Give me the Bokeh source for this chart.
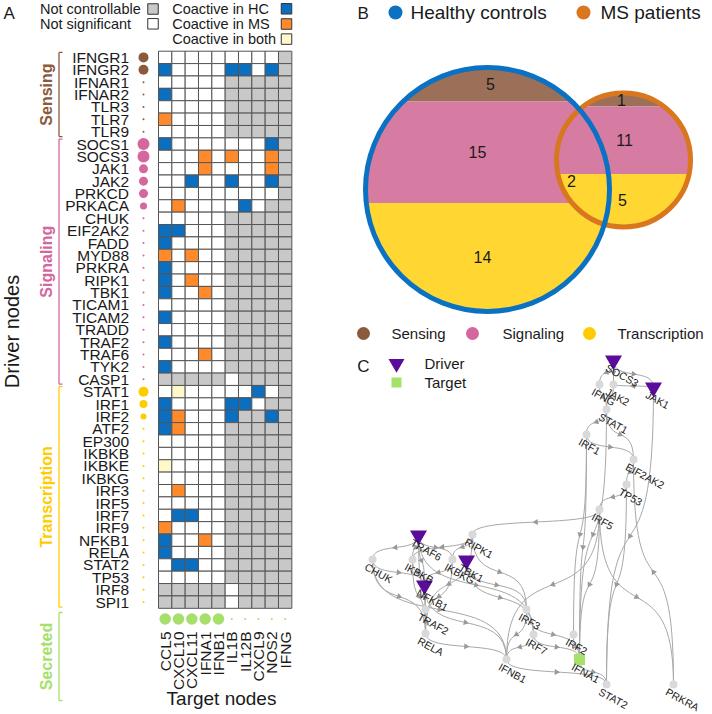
import numpy as np
from bokeh.plotting import figure
from bokeh.layouts import row, column
from bokeh.models import Range1d
from bokeh.core.properties import value
from bokeh.embed import file_html
from bokeh.resources import INLINE

FONT = value("Liberation Sans")

# ---------------- Panel A data ----------------
sensing_drivers = ["IFNGR1", "IFNGR2", "IFNAR1", "IFNAR2", "TLR3", "TLR7", "TLR9"]
signaling_drivers = ["SOCS1", "SOCS3", "JAK1", "JAK2", "PRKCD", "PRKACA", "CHUK", "EIF2AK2",
                     "FADD", "MYD88", "PRKRA", "RIPK1", "TBK1", "TICAM1", "TICAM2", "TRADD",
                     "TRAF2", "TRAF6", "TYK2", "CASP1"]
transcription_drivers = ["STAT1", "IRF1", "IRF2", "ATF2", "EP300", "IKBKB", "IKBKE", "IKBKG",
                         "IRF3", "IRF5", "IRF7", "IRF9", "NFKB1", "RELA", "STAT2", "TP53",
                         "IRF8", "SPI1"]
target_nodes = ["CCL5", "CXCL10", "CXCL11", "IFNA1", "IFNB1", "IL1B", "IL12B", "CXCL9", "NOS2", "IFNG"]

# G = not controllable, W = not significant, B = coactive in HC, O = coactive in MS, Y = both
sensing_status = [
    "WWWWWWWWWG", "BWWWWBBWBG", "WWWWWGGGGG", "BWWWWGGGGG", "WWWWWGGGGG", "OWWWWGGGGG", "WWWWWGGGGG",
]
signaling_status = [
    "BWWWWWWWBG", "WWWOWOWWOG", "WWWOWWWWOG", "WWBWWBWWBG", "WWWWWWWWWG", "WOWWWWBWGG",
    "WWWWWGGGGG", "BBWWWGGGGG", "BWWWWGGGGG", "OWOWWGGGGG", "BWWWWGGGGG", "BWOWWGGGGG",
    "BWWOWGGGGG", "WWWWWGGGGG", "BWWWWGGGGG", "WWWWWGGGGG", "BWWWWGGGGG", "WWWOWGGGGG",
    "BWWWWGGGGG", "GGGGGWGGGG",
]
transcription_status = [
    "WYWWWWWBWG", "BWWWWBBWGG", "BOWWWBGGBG", "BOWWWGGGGG", "WWWWWGGGGG", "WWWWWGGGGG",
    "YWWWWGGGGG", "WWWWWGGGGG", "WOWWWGGGGG", "WWWWWGGGGG", "WBBWWGGGGG", "OWWWWGGGGG",
    "BWWOWGGGGG", "BWWWWGGGGG", "WBBWWGGGGG", "WWWWWGGGGG", "GGGGGWGGGG", "GGGGGWGGGG",
]
# relative importance of each node (dot size)
sensing_weight = [0.8, 0.8, 0, 0, 0, 0, 0]
signaling_weight = [1.0, 1.0, 0.7, 0.7, 0.7, 0.5] + [0] * 14
transcription_weight = [0.8, 0.6, 0.4] + [0] * 15
target_weight = [0.95, 0.95, 0.95, 0.95, 0.95, 0, 0, 0, 0, 0]

# ---------------- Panel B data ----------------
venn_groups = ["Sensing", "Signaling", "Transcription"]
hc_only_counts = [5, 15, 14]
ms_only_counts = [1, 11, 5]
shared_counts = [0, 0, 2]

# ---------------- Panel C data ----------------
net_nodes = ["SOCS3", "JAK1", "IFNG", "JAK2", "STAT1", "IRF1", "EIF2AK2", "TP53", "IRF5",
             "TRAF6", "RIPK1", "CHUK", "IKBKB", "IKBKG", "TBK1", "NFKB1", "TRAF2", "IRF3",
             "RELA", "IRF7", "IRF2", "IFNB1", "IFNA1", "STAT2", "PRKRA"]
net_x = [613, 653, 599, 613, 606, 586, 633, 626, 599,
         418, 472, 372, 412, 452, 466, 424, 425, 526,
         425, 533, 573, 506, 579, 606, 673]
net_y = [360, 387, 384, 384, 409, 434, 459, 484, 509,
         535, 534, 559, 559, 559, 560, 585, 609, 609,
         633, 634, 634, 659, 659, 684, 684]
net_role = ["driver", "driver", "node", "node", "node", "node", "node", "node", "node",
            "driver", "node", "node", "node", "node", "driver", "driver", "node", "node",
            "node", "node", "node", "node", "target", "node", "node"]
net_edges = [
    ("SOCS3", "JAK1"), ("JAK1", "JAK2"), ("SOCS3", "IFNG"), ("SOCS3", "JAK2"),
    ("IFNG", "STAT1"), ("JAK2", "STAT1"), ("STAT1", "IRF1"), ("STAT1", "EIF2AK2"),
    ("IRF1", "EIF2AK2"), ("EIF2AK2", "TP53"), ("TP53", "IRF5"), ("IRF1", "IRF2"),
    ("IRF1", "IFNA1"), ("STAT1", "IFNA1"), ("IRF5", "IFNA1"), ("IRF5", "PRKRA"),
    ("IRF5", "IFNB1"), ("JAK1", "STAT2"), ("TP53", "STAT2"), ("PRKRA", "EIF2AK2"),
    ("IRF2", "IFNA1"), ("IRF3", "IFNA1"), ("IRF7", "IFNA1"), ("IRF3", "IFNB1"),
    ("IRF7", "IFNB1"), ("IFNB1", "STAT2"), ("IFNA1", "STAT2"), ("TRAF6", "IKBKB"),
    ("TRAF6", "IKBKG"), ("TRAF6", "CHUK"), ("TRAF6", "NFKB1"), ("TRAF6", "RELA"),
    ("TRAF6", "IRF7"), ("RIPK1", "IKBKB"), ("RIPK1", "IKBKG"), ("RIPK1", "RELA"),
    ("RIPK1", "IRF3"), ("TBK1", "IRF3"), ("TBK1", "IRF7"), ("CHUK", "RELA"),
    ("CHUK", "NFKB1"), ("IKBKB", "NFKB1"), ("IKBKB", "RELA"), ("IKBKG", "NFKB1"),
    ("IKBKG", "RELA"), ("NFKB1", "TRAF2"), ("TRAF2", "RELA"), ("RELA", "IFNB1"),
    ("NFKB1", "IFNB1"), ("IRF5", "RIPK1"), ("CHUK", "IFNB1"),
]

# ---------------- styles ----------------
C_SENS, C_SIG, C_TRANS, C_SEC = "#8B5A3C", "#D3679E", "#FFCC00", "#A6E06B"
CELL = {"G": "#C8C8C8", "W": "#FFFFFF", "B": "#0C6EBF", "O": "#FF8A2B", "Y": "#FFF8CB"}
TXT = "#1A1A1A"


def clean(p):
    p.grid.visible = False
    p.outline_line_color = None
    p.background_fill_color = "white"
    p.border_fill_color = "white"


def T(p, x, y, text, size, align="left", base="middle", angle=0.0, color=TXT, style="normal"):
    if not isinstance(x, (list, np.ndarray)):
        x, y, text = [x], [y], [text]
    p.text(x=x, y=y, text=text, text_font=FONT, text_font_size=size, text_align=align,
           text_baseline=base, angle=angle, text_color=color, text_font_style=style)


# ================= Panel A =================
WA, HA = 300, 712
X0P, CW = 158.0, 13.333
Y0P, RH = 50.7, 12.38


def ux(px):
    return (px - X0P) / CW


def uy(py):
    return (py - Y0P) / RH


pA = figure(width=WA, height=HA, x_range=Range1d(ux(0), ux(WA)),
            y_range=Range1d(uy(HA), uy(0)), output_backend="svg", toolbar_location=None,
            min_border=0, x_axis_location=None, y_axis_location=None)
clean(pA)

drivers = sensing_drivers + signaling_drivers + transcription_drivers
status = sensing_status + signaling_status + transcription_status
weights = sensing_weight + signaling_weight + transcription_weight
dcolors = ([C_SENS] * len(sensing_drivers) + [C_SIG] * len(signaling_drivers)
           + [C_TRANS] * len(transcription_drivers))

cx, cy, cc = [], [], []
for r, s in enumerate(status):
    for c, ch in enumerate(s):
        cx.append(c + 0.5)
        cy.append(r + 0.5)
        cc.append(CELL[ch])
pA.rect(x=cx, y=cy, width=1, height=1, fill_color=cc, line_color="#555555", line_width=1)

rows_y = [r + 0.5 for r in range(len(drivers))]
T(pA, [ux(128.5)] * len(drivers), rows_y, drivers, "15.5px", align="right")
pA.scatter(x=[ux(143)] * len(drivers), y=rows_y, size=[2 + 10 * w for w in weights],
           fill_color=dcolors, line_color=None)

cols_x = [c + 0.5 for c in range(len(target_nodes))]
pA.scatter(x=cols_x, y=[uy(618.5)] * len(target_nodes), size=[2 + 10 * w for w in target_weight],
           fill_color=C_SEC, line_color=None)
T(pA, cols_x, [uy(631)] * len(target_nodes), target_nodes, "15.5px", align="right",
  angle=np.pi / 2)

# group brackets
n1 = len(sensing_drivers)
n2 = n1 + len(signaling_drivers)
n3 = n2 + len(transcription_drivers)
groups = [("Sensing", C_SENS, 0.1, n1 - 0.1), ("Signaling", C_SIG, n1 + 0.1, n2 - 0.1),
          ("Transcription", C_TRANS, n2 + 0.1, n3 - 0.1),
          ("Secreted", C_SEC, uy(612), uy(700))]
bx, tick = ux(58.5), ux(62) - ux(58.5)
for name, col, a, b in groups:
    pA.segment(x0=[bx, bx, bx], y0=[a, a, b], x1=[bx, bx + tick, bx + tick], y1=[b, a, b],
               line_color=col, line_width=1.3)
    T(pA, ux(46), (a + b) / 2, name, "16px", align="center", angle=np.pi / 2, color=col,
      style="bold")

T(pA, ux(11), uy(331), "Driver nodes", "20px", align="center", angle=np.pi / 2)
T(pA, ux(221), uy(698), "Target nodes", "19px", align="center")
T(pA, ux(3), uy(13), "A", "17px")

# legend
leg_left = [("Not controllable", "G", 8.5), ("Not significant", "W", 23.3)]
leg_right = [("Coactive in HC", "B", 8.3), ("Coactive in MS", "O", 23.5), ("Coactive in both", "Y", 38.6)]
for lab, k, yy in leg_left:
    T(pA, ux(39.5), uy(yy), lab, "14.5px")
    pA.rect(x=[ux(152.5)], y=[uy(yy)], width=10.5 / CW, height=10.5 / RH, fill_color=CELL[k],
            line_color="#333333", line_width=1)
for lab, k, yy in leg_right:
    T(pA, ux(171.7), uy(yy), lab, "14.5px")
    pA.rect(x=[ux(286)], y=[uy(yy)], width=10.5 / CW, height=10.5 / RH, fill_color=CELL[k],
            line_color="#333333", line_width=1)

# ================= Panel B =================
WB, HB = 408, 322
pB = figure(width=WB, height=HB, x_range=Range1d(WA, WA + WB), y_range=Range1d(HB, 0),
            output_backend="svg", toolbar_location=None, min_border=0,
            x_axis_location=None, y_axis_location=None)
clean(pB)
VB = ["#9C7058", "#D67BA2", "#FFD632"]
HC_C, MS_C = "#0B72C3", "#D9771F"


def seg_area(r, h):
    h = np.clip(h, 0, 2 * r)
    return r * r * np.arccos((r - h) / r) - (r - h) * np.sqrt(np.maximum(2 * r * h - h * h, 0))


def band_edges_area(cyc, r, counts):
    tot = float(sum(counts))
    hs = np.linspace(0, 2 * r, 4001)
    areas = seg_area(r, hs) / (np.pi * r * r)
    edges = [cyc - r]
    cum = 0.0
    for cnt in counts[:-1]:
        cum += cnt / tot
        edges.append(cyc - r + np.interp(cum, areas, hs))
    edges.append(cyc + r)
    return edges


def band_edges_height(cyc, r, counts):
    cum = np.cumsum([0] + list(counts)) / float(sum(counts))
    return list(cyc - r + 2 * r * cum)


def band_poly(cxc, cyc, r, y0, y1):
    ys = np.linspace(y0, y1, 80)
    dx = np.sqrt(np.maximum(r * r - (ys - cyc) ** 2, 0))
    return list(np.concatenate([cxc - dx, (cxc + dx)[::-1]])), list(np.concatenate([ys, ys[::-1]]))


BIG = (487.0, 189.0, 122.0)
SMALL = (623.0, 159.5, 67.0)
hc_tot = [a + b for a, b in zip(hc_only_counts, shared_counts)]
ms_tot = [a + b for a, b in zip(ms_only_counts, shared_counts)]
e_big = band_edges_height(BIG[1], BIG[2], hc_tot)
e_small = band_edges_area(SMALL[1], SMALL[2], ms_tot)
for (cxc, cyc, r), edges in [(BIG, e_big), (SMALL, e_small)]:
    xs_l, ys_l = [], []
    for i in range(3):
        px, py = band_poly(cxc, cyc, r, edges[i], edges[i + 1])
        xs_l.append(px)
        ys_l.append(py)
    pB.patches(xs=xs_l, ys=ys_l, fill_color=VB, line_color=None)
pB.circle(x=[SMALL[0]], y=[SMALL[1]], radius=SMALL[2], fill_color=None, line_color=MS_C,
          line_width=5)
pB.circle(x=[BIG[0]], y=[BIG[1]], radius=BIG[2], fill_color=None, line_color=HC_C, line_width=5)

lx_big = [BIG[0] + 3, BIG[0] - 10, BIG[0] - 5]
lx_small = [SMALL[0] - 2, SMALL[0] + 1, SMALL[0] - 1]
T(pB, lx_big, [(e_big[i] + e_big[i + 1]) / 2 for i in range(3)], [str(v) for v in hc_only_counts], "16px", align="center")
T(pB, lx_small, [(e_small[i] + e_small[i + 1]) / 2 for i in range(3)], [str(v) for v in ms_only_counts], "16px", align="center")
T(pB, 571, 180, str(shared_counts[2]), "16px", align="center")

T(pB, 357, 13, "B", "17px")
pB.scatter(x=[395, 583], y=[12, 12], size=14, fill_color=[HC_C, MS_C], line_color=None)
T(pB, [410, 600], [12, 12], ["Healthy controls", "MS patients"], "19px")

# ================= Panel C =================
HC_ = 712 - HB
pC = figure(width=WB, height=HC_, x_range=Range1d(WA, WA + WB), y_range=Range1d(712, HB),
            output_backend="svg", toolbar_location=None, min_border=0,
            x_axis_location=None, y_axis_location=None)
clean(pC)
pC.scatter(x=[363, 472, 589], y=[333, 333, 333], size=13, fill_color=[C_SENS, C_SIG, C_TRANS],
           line_color=None)
T(pC, [391, 502, 617], [333, 333, 333], venn_groups, "15px")
T(pC, 363, 366, "C", "17px", align="center")
DRV, TGT, NODE, EDGE = "#5B0C9A", "#A6E26B", "#D9D9D9", "#A8A8A8"
pC.scatter(x=[396], y=[363], marker="inverted_triangle", size=16, fill_color=DRV, line_color=None)
pC.scatter(x=[396], y=[382], marker="square", size=10, fill_color=TGT, line_color=None)
T(pC, [424, 424], [363, 382], ["Driver", "Target"], "15px")

pos = {n: (x, y) for n, x, y in zip(net_nodes, net_x, net_y)}
x0s, y0s, x1s, y1s, c0x, c0y, c1x, c1y = ([] for _ in range(8))
ax, ay, aang = [], [], []
for s, t in net_edges:
    (xa, ya), (xb, yb) = pos[s], pos[t]
    dy = yb - ya
    k = 0.75
    P0, P3 = np.array([xa, ya]), np.array([xb, yb])
    P1, P2 = np.array([xa, ya + k * dy]), np.array([xb, yb - k * dy])
    x0s.append(xa); y0s.append(ya); x1s.append(xb); y1s.append(yb)
    c0x.append(P1[0]); c0y.append(P1[1]); c1x.append(P2[0]); c1y.append(P2[1])
    tt = 0.5
    B = (1 - tt) ** 3 * P0 + 3 * (1 - tt) ** 2 * tt * P1 + 3 * (1 - tt) * tt ** 2 * P2 + tt ** 3 * P3
    D = 3 * (1 - tt) ** 2 * (P1 - P0) + 6 * (1 - tt) * tt * (P2 - P1) + 3 * tt ** 2 * (P3 - P2)
    ax.append(B[0]); ay.append(B[1])
    aang.append(np.arctan2(-D[1], D[0]) - np.pi / 2)
pC.bezier(x0=x0s, y0=y0s, x1=x1s, y1=y1s, cx0=c0x, cy0=c0y, cx1=c1x, cy1=c1y,
          line_color=EDGE, line_width=1)
pC.scatter(x=ax, y=ay, marker="triangle", size=6, angle=aang, fill_color="#999999", line_color=None)

nx = [x for x, r in zip(net_x, net_role) if r == "node"]
ny = [y for y, r in zip(net_y, net_role) if r == "node"]
pC.scatter(x=nx, y=ny, size=8, fill_color=NODE, line_color=None)
dx_ = [x for x, r in zip(net_x, net_role) if r == "driver"]
dy_ = [y for y, r in zip(net_y, net_role) if r == "driver"]
pC.scatter(x=dx_, y=dy_, marker="inverted_triangle", size=17, fill_color=DRV, line_color=None)
tx_ = [x for x, r in zip(net_x, net_role) if r == "target"]
ty_ = [y for y, r in zip(net_y, net_role) if r == "target"]
pC.scatter(x=tx_, y=ty_, marker="square", size=11, fill_color=TGT, line_color=None)
T(pC, [x - 4 for x in net_x], [y + 1 for y in net_y], net_nodes, "10.5px", base="top", angle=-0.5)

layout = row(pA, column(pB, pC))
open("out.html", "w").write(file_html(layout, INLINE, "Figure"))
